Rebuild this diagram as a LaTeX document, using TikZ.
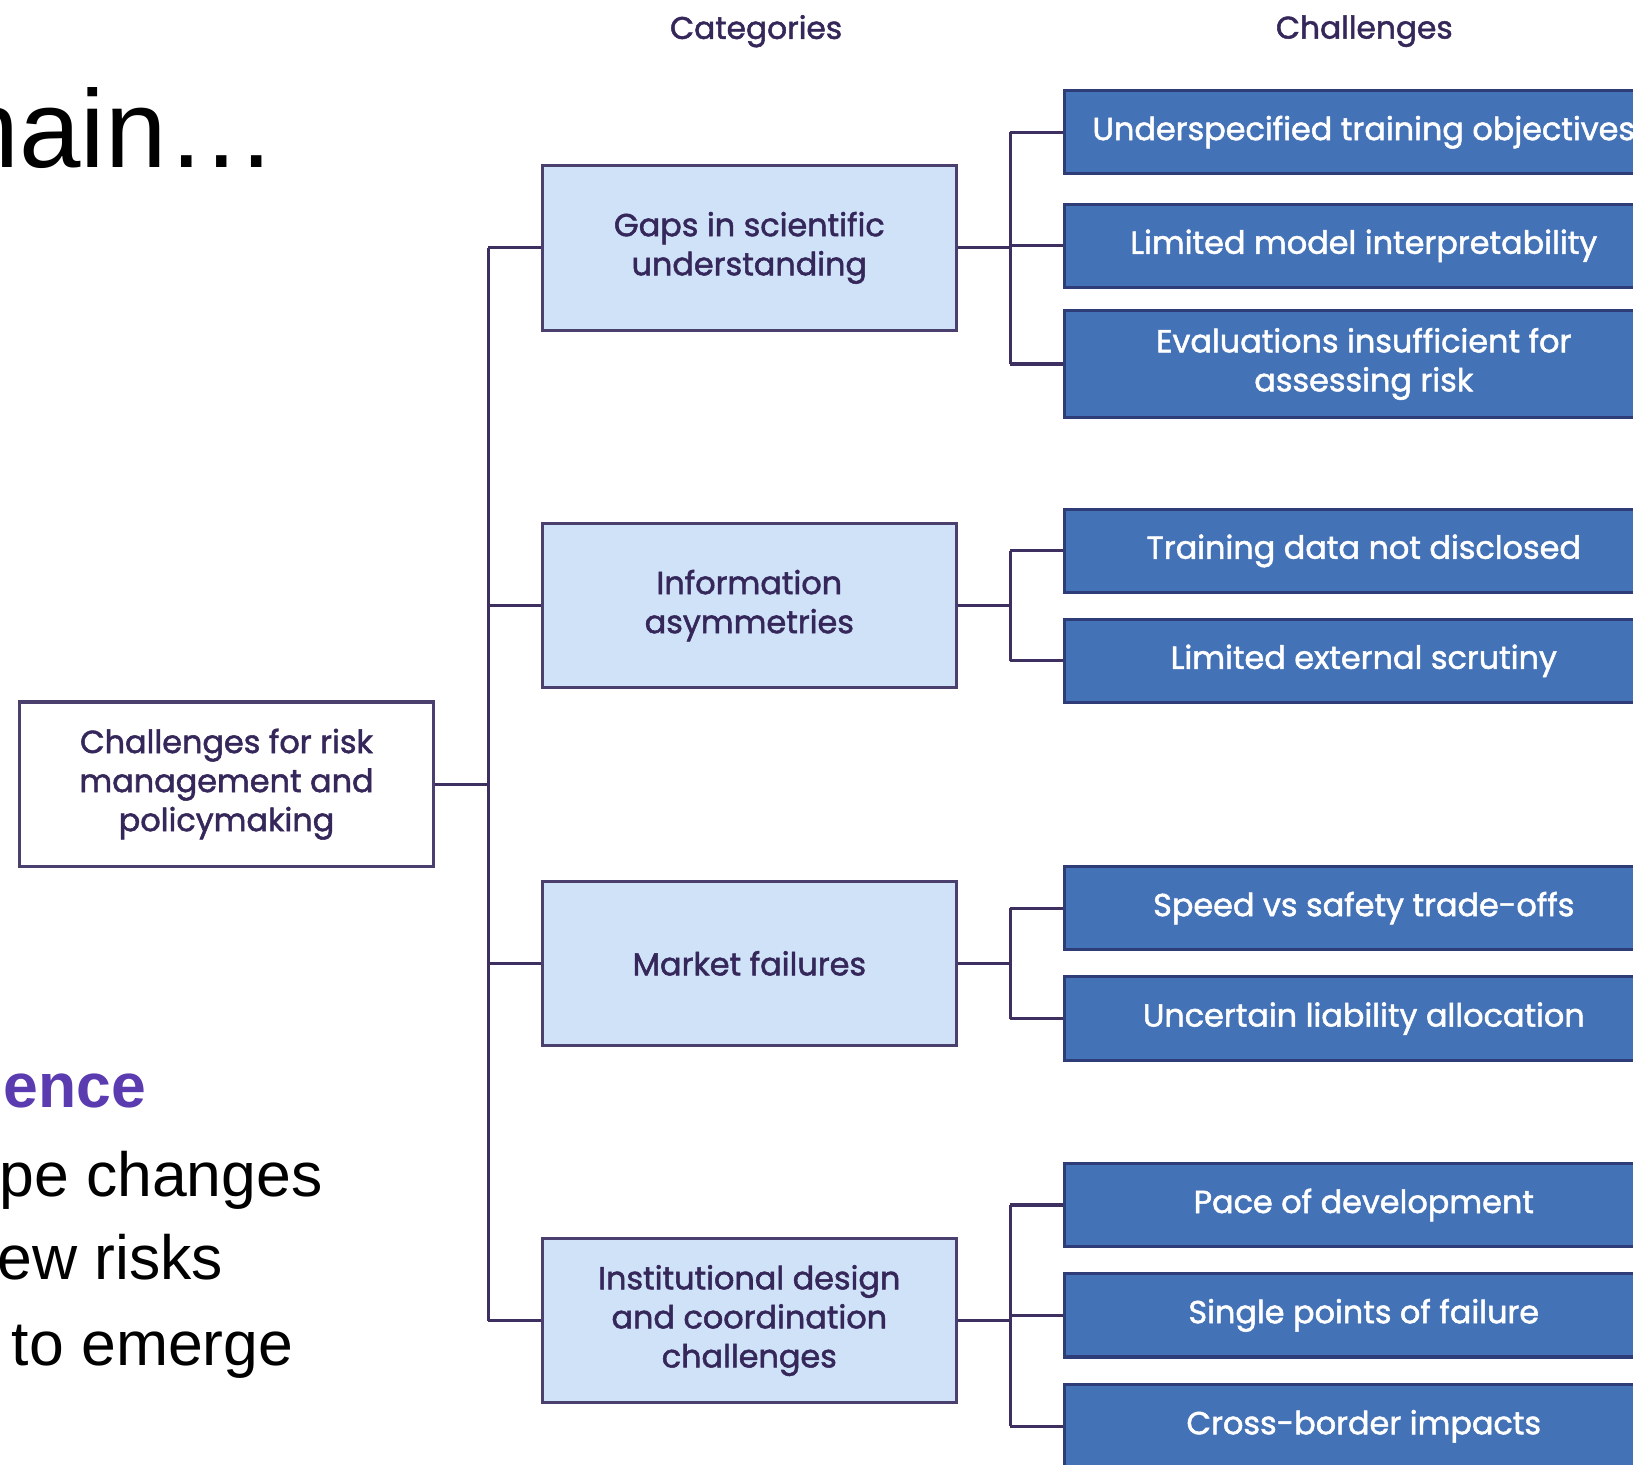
\documentclass[tikz,border=0pt]{standalone}
\usepackage{fontspec}
\setmainfont{Liberation Sans}
\newfontfamily\dfont{Poppins}[FakeBold=1.6]
\definecolor{linec}{HTML}{3D3060}
\definecolor{txtc}{HTML}{35275A}
\definecolor{catfill}{HTML}{CFE2F8}
\definecolor{catborder}{HTML}{4B3F6E}
\definecolor{chalfill}{HTML}{4472B7}
\definecolor{chalborder}{HTML}{2E3C78}
\definecolor{accent}{HTML}{5B3BB0}
\begin{document}
\begin{tikzpicture}[x=0.5pt,y=-0.5pt,
  conn/.style={draw=linec, line width=1.5pt},
  rootbox/.style={draw=catborder, line width=1.5pt, fill=white, minimum width=198.5pt, minimum height=79pt,
    align=center, text=txtc, inner sep=0pt, font=\dfont\fontsize{15.3}{18.75}\selectfont},
  catbox/.style={rootbox, fill=catfill},
  chalbox/.style={draw=chalborder, line width=1.5pt, fill=chalfill, minimum width=287.5pt, minimum height=40pt,
    align=center, text=white, inner sep=0pt, font=\dfont\fontsize{15.3}{18.75}\selectfont},
  header/.style={text=txtc, font=\dfont\fontsize{15}{17}\selectfont, inner sep=0pt},
  bigtxt/.style={anchor=base west, inner sep=0pt, font=\fontsize{30}{36}\selectfont}
]
\useasboundingbox (0,0) rectangle (1568,1406);
\fill[white] (0,0) rectangle (1568,1406);

% slide text fragments
\node[anchor=base west, inner sep=0pt, font=\fontsize{53}{60}\selectfont] (title) at (-70,161) {main…};
\node[bigtxt, text=accent, font=\bfseries\fontsize{30}{36}\selectfont] (l1) at (3,1063) {ence};
\node[bigtxt] (l2) at (-1,1149) {pe changes};
\node[bigtxt] (l3) at (-3,1229) {ew risks};
\node[bigtxt] (l4) at (11,1311) {to emerge};

% headers
\node[header] (hcat) at (726,30) {Categories};
\node[header] (hchal) at (1310,30) {Challenges};

% root
\node[rootbox] (root) at (217.5,753) {Challenges for risk\\management and\\policymaking};

% categories
\node[catbox] (gaps) at (719.5,238) {Gaps in scientific\\understanding};
\node[catbox] (info) at (719.5,581.5) {Information\\asymmetries};
\node[catbox] (market) at (719.5,925) {Market failures};
\node[catbox] (inst) at (719.5,1268) {Institutional design\\and coordination\\challenges};

% challenges
\node[chalbox] (c1) at (1309.5,127) {Underspecified training objectives};
\node[chalbox] (c2) at (1309.5,236) {Limited model interpretability};
\node[chalbox, minimum height=51.5pt] (c3) at (1309.5,349.5) {Evaluations insufficient for\\assessing risk};
\node[chalbox] (c4) at (1309.5,529) {Training data not disclosed};
\node[chalbox] (c5) at (1309.5,634.5) {Limited external scrutiny};
\node[chalbox] (c6) at (1309.5,872) {Speed vs safety trade-offs};
\node[chalbox] (c7) at (1309.5,978) {Uncertain liability allocation};
\node[chalbox] (c8) at (1309.5,1157) {Pace of development};
\node[chalbox] (c9) at (1309.5,1263) {Single points of failure};
\node[chalbox] (c10) at (1309.5,1369.5) {Cross-border impacts};

% connectors
\coordinate (tx) at (469,0);
\coordinate (bx) at (970,0);
\draw[conn] (root.east) -- (tx |- root.east);
\draw[conn] (tx |- gaps.west) -- (tx |- inst.west);
\foreach \c in {gaps,info,market,inst} \draw[conn] (tx |- \c.west) -- (\c.west);

\draw[conn] (gaps.east) -- (bx |- gaps.east);
\draw[conn] (bx |- c1.west) -- (bx |- c3.west);
\foreach \c in {c1,c2,c3} \draw[conn] (bx |- \c.west) -- (\c.west);

\draw[conn] (info.east) -- (bx |- info.east);
\draw[conn] (bx |- c4.west) -- (bx |- c5.west);
\foreach \c in {c4,c5} \draw[conn] (bx |- \c.west) -- (\c.west);

\draw[conn] (market.east) -- (bx |- market.east);
\draw[conn] (bx |- c6.west) -- (bx |- c7.west);
\foreach \c in {c6,c7} \draw[conn] (bx |- \c.west) -- (\c.west);

\draw[conn] (inst.east) -- (bx |- inst.east);
\draw[conn] (bx |- c8.west) -- (bx |- c10.west);
\foreach \c in {c8,c9,c10} \draw[conn] (bx |- \c.west) -- (\c.west);
\end{tikzpicture}
\end{document}
